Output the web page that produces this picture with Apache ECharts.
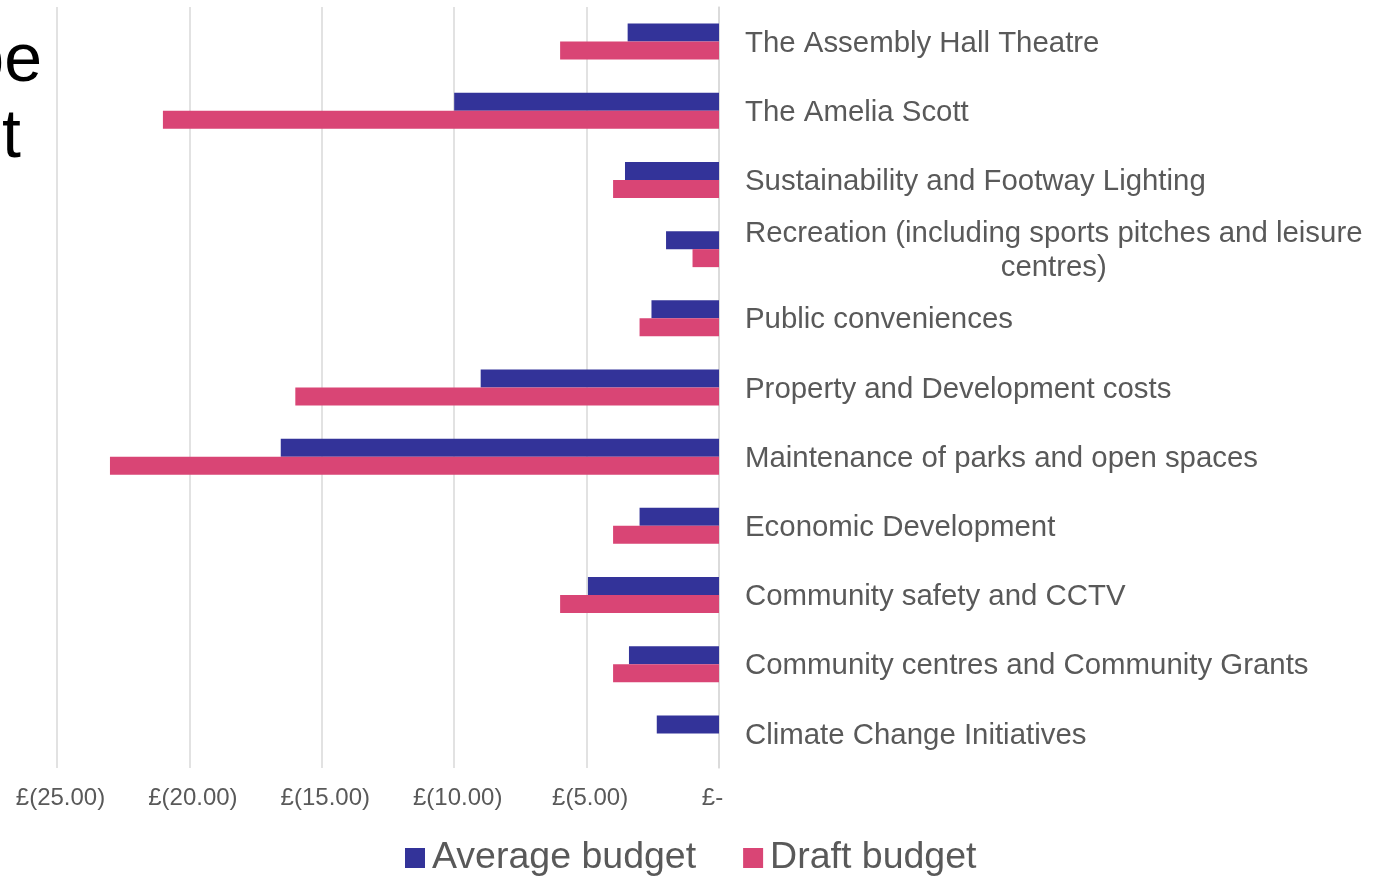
<!DOCTYPE html>
<html>
<head>
<meta charset="utf-8">
<script src="https://cdn.jsdelivr.net/npm/echarts@6/dist/echarts.min.js"></script>
<style>
html,body{margin:0;padding:0;background:#fff;}
#chart{width:1388px;height:876px;}
</style>
</head>
<body>
<div id="chart"></div>
<script>
var categories = [
  'The Assembly Hall Theatre',
  'The Amelia Scott',
  'Sustainability and Footway Lighting',
  'Recreation (including sports pitches and leisure centres)',
  'Public conveniences',
  'Property and Development costs',
  'Maintenance of parks and open spaces',
  'Economic Development',
  'Community safety and CCTV',
  'Community centres and Community Grants',
  'Climate Change Initiatives'
];
var averageBudget = [-3.45, -10, -3.55, -2, -2.55, -9, -16.55, -3, -4.95, -3.4, -2.35];
var draftBudget = [-6, -21, -4, -1, -3, -16, -23, -4, -6, -4, 0];
var seriesNames = ['Average budget', 'Draft budget'];
var titleLines = ['pe', 't'];

var chart = echarts.init(document.getElementById('chart'), null, {renderer: 'canvas'});
var FONT = 'Liberation Sans, Arial, sans-serif';
var option = {
  backgroundColor: '#ffffff',
  animation: false,
  grid: {left: 57, right: 669, top: 7, bottom: 108, containLabel: false},
  xAxis: {
    type: 'value',
    min: -25, max: 0, interval: 5,
    axisLine: {show: false},
    axisTick: {show: false},
    splitLine: {show: true, lineStyle: {color: '#d9d9d9', width: 1.5}},
    axisLabel: {
      color: '#595959', fontFamily: FONT, fontSize: 24, margin: 18,
      padding: [0, 0, 0, 7],
      formatter: function (v) {
        if (v === 0) return '£-   ';
        return '£(' + (-v).toFixed(2) + ')';
      }
    }
  },
  yAxis: {
    type: 'category',
    data: categories,
    inverse: true,
    position: 'right',
    axisLine: {show: true, lineStyle: {color: '#d9d9d9', width: 1.5}},
    axisTick: {show: false},
    axisLabel: {
      margin: 26,
      padding: [4, 0, 0, 0],
      color: '#595959', fontFamily: FONT, fontSize: 29.4,
      formatter: function (v) {
        if (v.indexOf('Recreation') === 0) {
          return '{a|Recreation (including sports pitches and leisure}\n{c|centres)}';
        }
        return v;
      },
      rich: {
        a: {align: 'left', color: '#595959', fontFamily: FONT, fontSize: 29.4, lineHeight: 34},
        c: {align: 'center', color: '#595959', fontFamily: FONT, fontSize: 29.4, lineHeight: 34}
      }
    }
  },
  legend: {
    data: seriesNames,
    left: 405, top: 839, padding: 0,
    itemWidth: 20, itemHeight: 20, itemGap: 47,
    icon: 'rect',
    textStyle: {color: '#595959', fontFamily: FONT, fontSize: 37.5, padding: [0, 0, 0, 2]}
  },
  graphic: [
    {type: 'text', x: 42, y: 28, style: {text: titleLines[0], fill: '#000', font: '68px Liberation Sans, Arial, sans-serif', textAlign: 'right'}},
    {type: 'text', x: 21, y: 104, style: {text: titleLines[1], fill: '#000', font: '68px Liberation Sans, Arial, sans-serif', textAlign: 'right'}}
  ],
  series: [
    {
      name: seriesNames[0], type: 'bar', data: averageBudget,
      barWidth: 18, barGap: '0%',
      itemStyle: {color: '#333399'}
    },
    {
      name: seriesNames[1], type: 'bar', data: draftBudget,
      barWidth: 18, barGap: '0%',
      itemStyle: {color: '#d94575'}
    }
  ]
};
chart.setOption(option);
</script>
</body>
</html>
